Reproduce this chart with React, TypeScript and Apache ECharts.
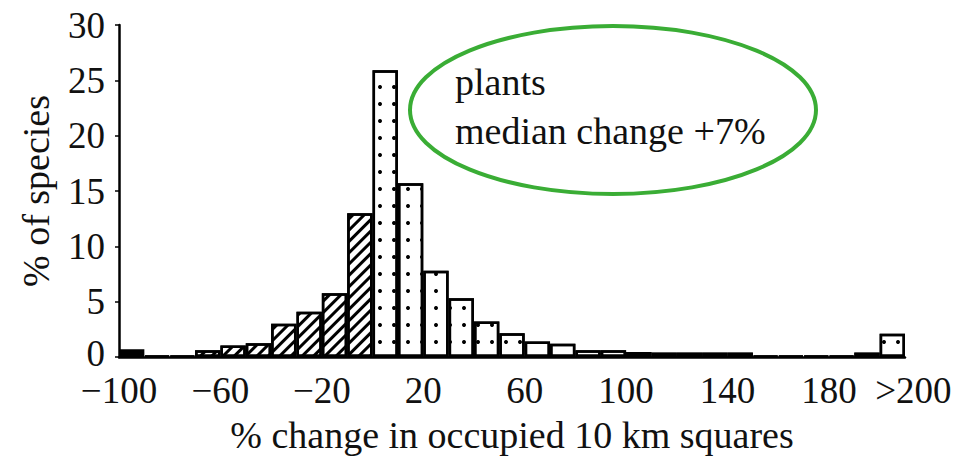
import React, { useEffect, useRef } from "react";
import * as echarts from "echarts";

// bins of % change in occupied 10 km squares (start of each 10% bin), last is ">200"
const binCategories = [
  "-100", "-90", "-80", "-70", "-60", "-50", "-40", "-30", "-20", "-10",
  "0", "10", "20", "30", "40", "50", "60", "70", "80", "90",
  "100", "110", "120", "130", "140", "150", "160", "170", "180", "190", ">200",
];
// % of species in each bin
const pctSpecies = [
  0.7, 0.1, 0.1, 0.6, 1.05, 1.25, 3.0, 4.1, 5.75, 13.0,
  25.9, 15.7, 7.8, 5.3, 3.2, 2.15, 1.4, 1.2, 0.6, 0.6,
  0.45, 0.4, 0.4, 0.4, 0.4, 0.1, 0.1, 0.1, 0.1, 0.4, 2.1,
];
// bin index ranges for the three fill styles
const extinctIdx = [0];
const declineIdx = [1, 2, 3, 4, 5, 6, 7, 8, 9];
// x tick labels (value positions) and y ticks
const xTickValues = [-100, -60, -20, 20, 60, 100, 140, 180, 205];
const xTickLabels = ["\u2212100", "\u221260", "\u221220", "20", "60", "100", "140", "180", ">200"];
const yTicks = { min: 0, max: 30, interval: 5 };
const annotationLines = ["plants", "median change +7%"];

const FONT = '"Liberation Serif", "Times New Roman", serif';

export default function App() {
  const ref = useRef<HTMLDivElement>(null);
  useEffect(() => {
    if (!ref.current) return;
    const chart = echarts.init(ref.current, undefined, { renderer: "svg" });
    const pick = (cond: (i: number) => boolean) =>
      pctSpecies.map((v, i) => (cond(i) ? v : "-"));
    const common = {
      type: "bar",
      xAxisIndex: 0,
      yAxisIndex: 0,
      barCategoryGap: "0%",
      barGap: "-100%",
      silent: true,
    };
    chart.setOption({
      animation: false,
      backgroundColor: "#fff",
      grid: { left: 119, right: 71, top: 25, bottom: 111 },
      xAxis: [
        {
          type: "category",
          data: binCategories,
          show: false,
          boundaryGap: true,
        },
        {
          type: "value",
          min: -100,
          max: 210,
          position: "bottom",
          axisLine: { show: true, onZero: false, lineStyle: { color: "#000", width: 2.5 } },
          axisTick: { show: false },
          splitLine: { show: false },
          axisLabel: {
            customValues: xTickValues,
            formatter: (v: number) => {
              const i = xTickValues.indexOf(v);
              if (i < 0) return "";
              return i === xTickValues.length - 1 ? `{gt|${xTickLabels[i]}}` : xTickLabels[i];
            },
            rich: {
              gt: { padding: [0, 0, 0, 42], fontFamily: FONT, fontSize: 37, color: "#111" },
            },
            fontFamily: FONT,
            fontSize: 37,
            color: "#111",
            margin: 15,
          },
          name: "% change in occupied 10 km squares",
          nameLocation: "middle",
          nameGap: 59,
          nameTextStyle: { fontFamily: FONT, fontSize: 38, color: "#111" },
        },
      ],
      yAxis: {
        type: "value",
        min: yTicks.min,
        max: yTicks.max,
        interval: yTicks.interval,
        axisLine: { show: true, onZero: false, lineStyle: { color: "#000", width: 2.5 } },
        axisTick: { show: true, inside: false, length: 4, lineStyle: { color: "#000", width: 1.5 } },
        splitLine: { show: false },
        axisLabel: {
          fontFamily: FONT,
          fontSize: 37,
          color: "#111",
          margin: 14,
          lineHeight: 30,
          formatter: (v: number) => (v === yTicks.min ? `{z|${v}}` : `${v}`),
          rich: { z: { padding: [0, 0, 8, 0], fontFamily: FONT, fontSize: 37, color: "#111" } },
        },
        name: "% of species",
        nameLocation: "middle",
        nameGap: 64,
        nameTextStyle: { fontFamily: FONT, fontSize: 38, color: "#111" },
      },
      series: [
        {
          ...common,
          name: "lost",
          data: pick((i) => extinctIdx.includes(i)),
          itemStyle: { color: "#000", borderColor: "#000", borderWidth: 2.5 },
        },
        {
          ...common,
          name: "decline",
          data: pick((i) => declineIdx.includes(i)),
          itemStyle: {
            color: "#fff",
            borderColor: "#000",
            borderWidth: 2.5,
            decal: {
              symbol: "rect",
              color: "#000",
              dashArrayX: [1, 0],
              dashArrayY: [3, 5],
              rotation: -Math.PI / 4,
            },
          },
        },
        {
          ...common,
          name: "increase",
          data: pick((i) => !extinctIdx.includes(i) && !declineIdx.includes(i)),
          itemStyle: {
            color: "#fff",
            borderColor: "#000",
            borderWidth: 2.5,
            decal: {
              symbol: "circle",
              color: "#000",
              symbolSize: 1,
              dashArrayX: [3.5, 10],
              dashArrayY: [3.5, 13],
            },
          },
        },
      ],
      graphic: [
        {
          type: "ellipse",
          shape: { cx: 613, cy: 110, rx: 203, ry: 84 },
          style: { fill: "none", stroke: "#3aad35", lineWidth: 4 },
          silent: true,
        },
        ...annotationLines.map((t, i) => ({
          type: "text",
          x: 455,
          y: 82 + i * 49,
          style: {
            text: t,
            font: `38px ${FONT}`,
            fill: "#111",
            textAlign: "left",
            textVerticalAlign: "middle",
          },
          silent: true,
        })),
      ],
    });
    return () => chart.dispose();
  }, []);
  return (
    <div
      ref={ref}
      style={{ position: "fixed", left: 0, top: 0, width: 976, height: 468 }}
    />
  );
}
